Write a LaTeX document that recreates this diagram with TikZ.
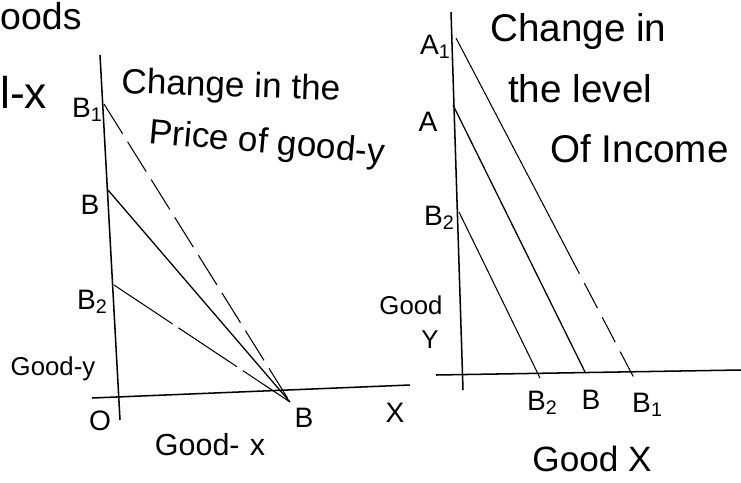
\documentclass[tikz,border=0pt]{standalone}
\usepackage{fontspec}
\setmainfont{Liberation Sans}
\usetikzlibrary{calc}
\begin{document}
\begin{tikzpicture}[x=0.03cm,y=-0.03cm,
  axis/.style={line width=1.3pt,black},
  budget/.style={line width=1.1pt,black},
  thin budget/.style={line width=0.9pt,black},
  longdash/.style={dash pattern=on 30pt off 8pt},
  lbl/.style={font=\fontsize{24}{28}\selectfont,inner sep=0pt},
  note/.style={font=\fontsize{30}{34}\selectfont,inner sep=0pt},
  rnote/.style={font=\fontsize{33}{36}\selectfont,inner sep=0pt},
  axlbl/.style={font=\fontsize{22}{26}\selectfont,inner sep=0pt}]
\useasboundingbox (0,0) rectangle (741,482);
% ---------- left diagram ----------
\coordinate (LYt) at (100,55);
\coordinate (LYb) at (120,420);
\coordinate (LXl) at (92,398);
\coordinate (LXr) at (410,385);
\coordinate (LB1) at (104,104);
\coordinate (LB) at (108,190);
\coordinate (LB2) at (114,285);
\coordinate (LP) at (290,402);
\draw[axis] (LYt) -- (LYb);
\draw[axis] (LXl) -- (LXr);
\draw[thin budget,longdash] (LB1) -- (LP);
\draw[budget] (LB) -- (LP);
\draw[thin budget,dash pattern=on 60pt off 6pt] (LB2) -- (LP);
\node[font=\fontsize{32}{36}\selectfont,inner sep=0pt,anchor=base west] (oods) at (0,30) {oods};
\node[font=\fontsize{38}{42}\selectfont,inner sep=0pt,anchor=base west] (lx) at (0,108) {l-x};
\node[lbl,anchor=west] (lB1) at (72,110) {B\textsubscript{1}};
\node[lbl] (lBl) at (90,205) {B};
\node[lbl,anchor=west] (lB2l) at (77,302) {B\textsubscript{2}};
\node[axlbl] (goody) at (53,369) {Good-y};
\node[lbl] (orig) at (100,421) {O};
\node[lbl] (lBx) at (304,418) {B};
\node[lbl] (xlab) at (395,413) {X};
\node[font=\fontsize{26}{30}\selectfont,inner sep=0pt] (goodx) at (210,445) {Good-\,\,x};
\node[note,anchor=base west,rotate=-2] (t1) at (121,93) {Change in the};
\node[note,anchor=base west,rotate=-5] (t2) at (148,143) {Price of good-y};
% ---------- right diagram ----------
\coordinate (RYt) at (451,12);
\coordinate (RYb) at (463,390);
\coordinate (RXl) at (436,375);
\coordinate (RXr) at (741,370);
\coordinate (RA1) at (456,38);
\coordinate (RA) at (453,105);
\coordinate (RB2a) at (459,212);
\coordinate (RB2) at (540,378);
\coordinate (RB) at (585,372);
\coordinate (RB1) at (634,378);
\draw[axis] (RYt) -- (RYb);
\draw[axis] (RXl) -- (RXr);
\draw[thin budget] (RA1) -- ($(RA1)!0.62!(RB1)$) coordinate (RA1m);
\draw[thin budget,dash pattern=on 24pt off 9pt] (RA1m) -- (RB1);
\draw[budget] (RA) -- (RB);
\draw[thin budget] (RB2a) -- (RB2);
\node[lbl,anchor=west] (rA1) at (420,47) {A\textsubscript{1}};
\node[lbl] (rA) at (428,122) {A};
\node[lbl,anchor=west] (rB2) at (424,218) {B\textsubscript{2}};
\node[axlbl] (gy1) at (411,305) {Good};
\node[axlbl] (gy2) at (430,340) {Y};
\node[lbl,anchor=west] (rB2x) at (527,403) {B\textsubscript{2}};
\node[lbl] (rBx) at (591,400) {B};
\node[lbl,anchor=west] (rB1x) at (632,405) {B\textsubscript{1}};
\node[font=\fontsize{30}{34}\selectfont,inner sep=0pt] (gX) at (592,459) {Good X};
\node[rnote,anchor=base west] (r1) at (490,42) {Change in};
\node[rnote,anchor=base west] (r2) at (508,102) {the level};
\node[rnote,anchor=base west] (r3) at (550,162) {Of Income};
\end{tikzpicture}
\end{document}
